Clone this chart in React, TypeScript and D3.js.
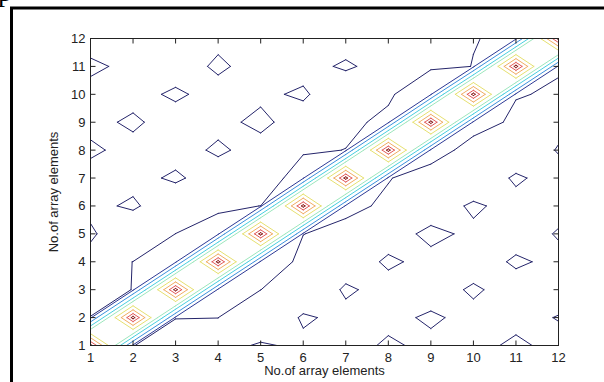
import React from "react";
import * as d3 from "d3";

// tick labels on both axes
const xTicks = [1, 2, 3, 4, 5, 6, 7, 8, 9, 10, 11, 12];
const yTicks = [1, 2, 3, 4, 5, 6, 7, 8, 9, 10, 11, 12];

// contour levels and their (jet-like) colours
const levels = [0.1, 0.12, 0.24, 0.37, 0.48, 0.62, 0.75, 0.87, 0.96];
const levelColors = [
  "#24246a", "#2e3a96", "#3c90dc", "#48cfdf", "#9ce6bc",
  "#e6e070", "#f0ac64", "#e05858", "#8a1c1c",
];

// matrix values, z[row][col]; row 0 is y = 1 (bottom), col 0 is x = 1
const z: number[][] = [
  [1, 0.1005, 0.09, 0.0873, 0.104, 0.0935, 0.0892, 0.104, 0.0938, 0.0935, 0.104, 0.0935],
  [0.1005, 1, 0.1005, 0.1002, 0.07, 0.104, 0.092, 0.0927, 0.104, 0.092, 0.0935, 0.101],
  [0.09, 0.1005, 1, 0.1005, 0.1003, 0.075, 0.104, 0.0905, 0.087, 0.104, 0.088, 0.09],
  [0.0907, 0.1002, 0.1005, 1, 0.103, 0.099, 0.085, 0.104, 0.0928, 0.086, 0.104, 0.0935],
  [0.104, 0.078, 0.1002, 0.103, 1, 0.10005, 0.099, 0.0887, 0.106, 0.095, 0.088, 0.102],
  [0.0933, 0.104, 0.081, 0.0989, 0.10005, 1, 0.10082, 0.09945, 0.086, 0.104, 0.091, 0.092],
  [0.0907, 0.092, 0.104, 0.087, 0.09, 0.1085, 1, 0.100138, 0.098758, 0.08, 0.104, 0.0886],
  [0.104, 0.0925, 0.09, 0.104, 0.0904, 0.0983, 0.1002, 1, 0.101242, 0.098984, 0.08, 0.102],
  [0.0932, 0.104, 0.089, 0.093, 0.106, 0.087, 0.0973, 0.1027, 1, 0.101016, 0.099565, 0.092],
  [0.093, 0.092, 0.104, 0.091, 0.095, 0.104, 0.078, 0.0982, 0.1102, 1, 0.100109, 0.099798],
  [0.104, 0.0947, 0.088, 0.104, 0.0902, 0.0905, 0.104, 0.0886, 0.0986, 0.1001, 1, 0.100135],
  [0.0907, 0.095, 0.09, 0.0945, 0.095, 0.09, 0.0873, 0.095, 0.09, 0.09987, 0.10068, 1],
];

type Seg = [number, number, number, number];

// marching squares, open lines, saddles settled by the cell mean (like matlab)
function contourSegments(grid: number[][], level: number): Seg[] {
  const segs: Seg[] = [];
  const ny = grid.length;
  const nx = grid[0].length;
  for (let j = 0; j < ny - 1; j++) {
    for (let i = 0; i < nx - 1; i++) {
      const v00 = grid[j][i];
      const v10 = grid[j][i + 1];
      const v01 = grid[j + 1][i];
      const v11 = grid[j + 1][i + 1];
      const a00 = v00 >= level, a10 = v10 >= level, a01 = v01 >= level, a11 = v11 >= level;
      const cross = (p: number, q: number) => (level - p) / (q - p);
      const pts: Record<string, [number, number]> = {};
      if (a00 !== a10) pts.b = [i + cross(v00, v10), j];
      if (a10 !== a11) pts.r = [i + 1, j + cross(v10, v11)];
      if (a01 !== a11) pts.t = [i + cross(v01, v11), j + 1];
      if (a00 !== a01) pts.l = [i, j + cross(v00, v01)];
      const keys = Object.keys(pts);
      const add = (k1: string, k2: string) => {
        const p = pts[k1], q = pts[k2];
        segs.push([p[0] + 1, p[1] + 1, q[0] + 1, q[1] + 1]);
      };
      if (keys.length === 2) {
        add(keys[0], keys[1]);
      } else if (keys.length === 4) {
        const centre = (v00 + v10 + v01 + v11) / 4 >= level;
        if (a00 && a11) {
          if (centre) { add("b", "r"); add("t", "l"); }
          else { add("b", "l"); add("r", "t"); }
        } else {
          if (centre) { add("b", "l"); add("r", "t"); }
          else { add("b", "r"); add("t", "l"); }
        }
      }
    }
  }
  return segs;
}

export default function App() {
  const width = 604;
  const height = 382;
  const left = 90.5, right = 558.5, top = 38.5, bottom = 345.5;

  const x = d3.scaleLinear().domain([1, 12]).range([left, right]);
  const y = d3.scaleLinear().domain([1, 12]).range([bottom, top]);

  const font = "'Liberation Sans', Arial, Helvetica, sans-serif";

  const paths = levels.map((lv) => {
    const p = d3.path();
    contourSegments(z, lv).forEach(([x1, y1, x2, y2]) => {
      p.moveTo(x(x1), y(y1));
      p.lineTo(x(x2), y(y2));
    });
    return p.toString();
  });

  return (
    <svg
      width={width}
      height={height}
      style={{ position: "absolute", left: 0, top: 0, background: "#fff" }}
    >
      {/* page frame */}
      <path d={`M11.5,${height} V8 H${width}`} fill="none" stroke="#000" strokeWidth={3} />
      <text x={-2} y={0.5} fontFamily="'Liberation Serif', serif" fontSize={28} fill="#000">p</text>

      <defs>
        <clipPath id="plotClip">
          <rect x={left} y={top} width={right - left} height={bottom - top} />
        </clipPath>
      </defs>

      {/* contour lines */}
      <g clipPath="url(#plotClip)" fill="none" strokeWidth={1} strokeLinecap="round">
        {paths.map((d, i) => (
          <path key={i} d={d} stroke={levelColors[i]} />
        ))}
      </g>

      {/* axes box */}
      <rect x={left} y={top} width={right - left} height={bottom - top} fill="none" stroke="#222" strokeWidth={1} />

      {/* ticks */}
      <g stroke="#222" strokeWidth={1}>
        {xTicks.map((t) => (
          <g key={"x" + t}>
            <line x1={x(t)} x2={x(t)} y1={bottom} y2={bottom - 5} />
            <line x1={x(t)} x2={x(t)} y1={top} y2={top + 5} />
          </g>
        ))}
        {yTicks.map((t) => (
          <g key={"y" + t}>
            <line x1={left} x2={left + 5} y1={y(t)} y2={y(t)} />
            <line x1={right} x2={right - 5} y1={y(t)} y2={y(t)} />
          </g>
        ))}
      </g>

      {/* tick labels */}
      <g fontFamily={font} fontSize={13} fill="#222">
        {xTicks.map((t) => (
          <text key={"xl" + t} x={x(t)} y={bottom + 16} textAnchor="middle">{t}</text>
        ))}
        {yTicks.map((t) => (
          <text key={"yl" + t} x={left - 5} y={y(t) + 4.5} textAnchor="end">{t}</text>
        ))}
      </g>

      {/* axis titles */}
      <text x={(left + right) / 2} y={375} textAnchor="middle" fontFamily={font} fontSize={13} fill="#222">
        No.of array elements
      </text>
      <text
        transform={`translate(58,${(top + bottom) / 2}) rotate(-90)`}
        textAnchor="middle"
        fontFamily={font}
        fontSize={13}
        fill="#222"
      >
        No.of array elements
      </text>
    </svg>
  );
}
